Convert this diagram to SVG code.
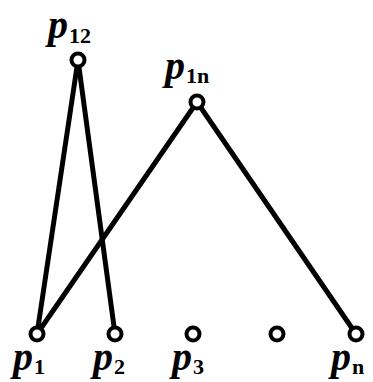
<svg xmlns="http://www.w3.org/2000/svg" width="373" height="382" viewBox="0 0 373 382">
<style>
.edge{stroke:#000;stroke-width:5;stroke-linecap:round;fill:none}
.node{fill:#fff;stroke:#000;stroke-width:4}
.lbl{font-family:"Liberation Serif","DejaVu Serif",serif;font-style:italic;font-weight:bold;font-size:40px;fill:#000}
.sub{font-size:22px;font-style:normal}
</style>
<rect width="373" height="382" fill="#fff"/>
<g id="connectors">
<line class="edge" x1="78" y1="60" x2="37" y2="334"/>
<line class="edge" x1="78" y1="60" x2="115" y2="334"/>
<line class="edge" x1="197" y1="102" x2="37" y2="334"/>
<line class="edge" x1="197" y1="102" x2="356" y2="334"/>
</g>
<g id="p12"><circle class="node" cx="78" cy="60" r="6.5"/><text class="lbl" x="48" y="38">p<tspan class="sub" dx="1" dy="5">12</tspan></text></g>
<g id="p1n"><circle class="node" cx="197" cy="102" r="6.5"/><text class="lbl" x="165" y="79">p<tspan class="sub" dx="1" dy="4">1n</tspan></text></g>
<g id="p1"><circle class="node" cx="37" cy="334" r="6.5"/><text class="lbl" x="13" y="370">p<tspan class="sub" dx="1" dy="4">1</tspan></text></g>
<g id="p2"><circle class="node" cx="115" cy="334" r="6.5"/><text class="lbl" x="93" y="370">p<tspan class="sub" dx="1" dy="4">2</tspan></text></g>
<g id="p3"><circle class="node" cx="193" cy="334" r="6.5"/><text class="lbl" x="172" y="370">p<tspan class="sub" dx="1" dy="4">3</tspan></text></g>
<g id="blank"><circle class="node" cx="277" cy="334" r="6.5"/></g>
<g id="pn"><circle class="node" cx="356" cy="334" r="6.5"/><text class="lbl" x="331" y="370">p<tspan class="sub" dx="1" dy="4">n</tspan></text></g>
</svg>
